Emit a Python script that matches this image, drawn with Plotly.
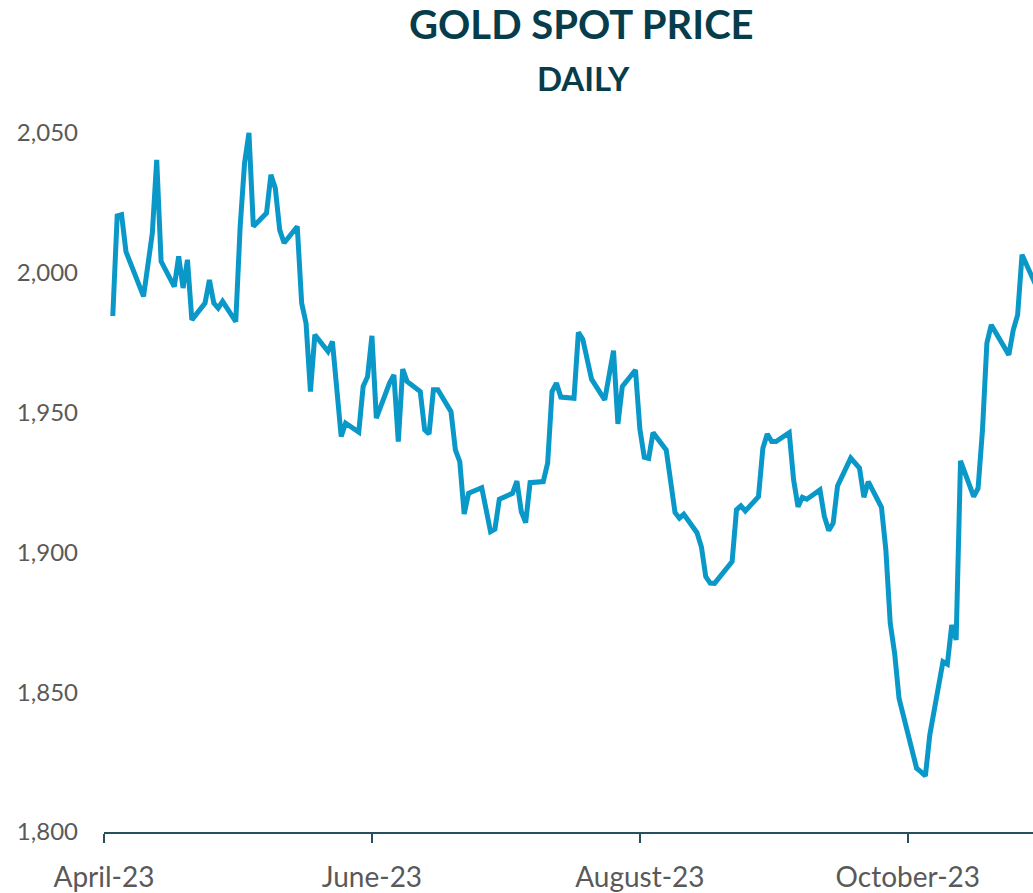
import plotly.graph_objects as go

# Daily gold spot price (USD/oz)
dates = [
    "2023-04-03", "2023-04-04", "2023-04-05", "2023-04-06", "2023-04-10",
    "2023-04-12", "2023-04-13", "2023-04-14", "2023-04-17", "2023-04-18",
    "2023-04-19", "2023-04-20", "2023-04-21", "2023-04-24", "2023-04-25",
    "2023-04-26", "2023-04-27", "2023-04-28", "2023-05-01", "2023-05-02",
    "2023-05-03", "2023-05-04", "2023-05-05", "2023-05-08", "2023-05-09",
    "2023-05-10", "2023-05-11", "2023-05-12", "2023-05-15", "2023-05-16",
    "2023-05-17", "2023-05-18", "2023-05-19", "2023-05-22", "2023-05-23",
    "2023-05-25", "2023-05-26", "2023-05-29", "2023-05-30", "2023-05-31",
    "2023-06-01", "2023-06-02", "2023-06-05", "2023-06-06", "2023-06-07",
    "2023-06-08", "2023-06-09", "2023-06-12", "2023-06-13", "2023-06-14",
    "2023-06-15", "2023-06-16", "2023-06-19", "2023-06-20", "2023-06-21",
    "2023-06-22", "2023-06-23", "2023-06-26", "2023-06-28", "2023-06-29",
    "2023-06-30", "2023-07-03", "2023-07-04", "2023-07-05", "2023-07-06",
    "2023-07-07", "2023-07-10", "2023-07-11", "2023-07-12", "2023-07-13",
    "2023-07-14", "2023-07-17", "2023-07-18", "2023-07-19", "2023-07-21",
    "2023-07-24", "2023-07-26", "2023-07-27", "2023-07-28", "2023-07-31",
    "2023-08-01", "2023-08-02", "2023-08-03", "2023-08-04", "2023-08-07",
    "2023-08-09", "2023-08-10", "2023-08-11", "2023-08-14", "2023-08-15",
    "2023-08-16", "2023-08-17", "2023-08-18", "2023-08-22", "2023-08-23",
    "2023-08-24", "2023-08-25", "2023-08-28", "2023-08-29", "2023-08-30",
    "2023-08-31", "2023-09-01", "2023-09-04", "2023-09-05", "2023-09-06",
    "2023-09-07", "2023-09-08", "2023-09-11", "2023-09-12", "2023-09-13",
    "2023-09-14", "2023-09-15", "2023-09-18", "2023-09-20", "2023-09-21",
    "2023-09-22", "2023-09-25", "2023-09-26", "2023-09-27", "2023-09-28",
    "2023-09-29", "2023-10-02", "2023-10-03", "2023-10-04", "2023-10-05",
    "2023-10-06", "2023-10-09", "2023-10-10", "2023-10-11", "2023-10-12",
    "2023-10-13", "2023-10-16", "2023-10-17", "2023-10-18", "2023-10-19",
    "2023-10-20", "2023-10-24", "2023-10-25", "2023-10-26", "2023-10-27",
    "2023-10-30",
]
prices = [
    1984.5, 2020.3, 2020.7, 2007.5, 1991.5,
    2014.1, 2040.3, 2004.0, 1995.0, 2005.8,
    1994.5, 2004.6, 1983.1, 1989.1, 1997.4,
    1989.1, 1987.3, 1989.7, 1982.5, 2016.5,
    2039.2, 2050.0, 2016.5, 2021.3, 2035.0,
    2030.2, 2015.3, 2010.6, 2016.5, 1989.1,
    1981.9, 1957.5, 1977.8, 1971.8, 1975.4,
    1941.4, 1946.2, 1943.0, 1959.3, 1962.8,
    1977.4, 1948.0, 1960.5, 1963.4, 1939.6,
    1965.5, 1961.1, 1957.5, 1943.8, 1942.3,
    1958.1, 1958.1, 1950.3, 1936.6, 1932.4,
    1913.7, 1921.1, 1923.1, 1907.4, 1908.3,
    1919.0, 1921.1, 1925.5, 1914.6, 1910.6,
    1924.9, 1925.3, 1931.9, 1957.5, 1960.5,
    1955.5, 1955.1, 1978.6, 1976.2, 1961.9,
    1954.5, 1972.1, 1945.9, 1959.3, 1965.2,
    1944.0, 1934.0, 1933.6, 1942.8, 1936.6,
    1914.2, 1912.2, 1913.6, 1907.0, 1902.0,
    1891.3, 1889.0, 1888.9, 1896.7, 1915.2,
    1916.6, 1914.8, 1919.9, 1937.2, 1942.3,
    1939.6, 1939.6, 1942.8, 1925.9, 1916.3,
    1919.7, 1919.0, 1922.3, 1912.8, 1907.8,
    1910.4, 1923.7, 1933.7, 1930.1, 1919.7,
    1925.3, 1916.1, 1900.9, 1874.6, 1863.9,
    1847.8, 1830.0, 1822.8, 1821.5, 1820.0,
    1834.7, 1860.9, 1860.0, 1874.0, 1868.7,
    1932.7, 1919.9, 1922.9, 1943.8, 1974.8,
    1981.3, 1970.6, 1979.5, 1984.9, 2006.4,
    1996.0,
]

x_tick_vals = ["2023-04-01", "2023-06-01", "2023-08-01", "2023-10-01"]
x_tick_text = ["April-23", "June-23", "August-23", "October-23"]
y_tick_vals = [1800, 1850, 1900, 1950, 2000, 2050]

title_text = "GOLD SPOT PRICE"
subtitle_text = "DAILY"

LINE = "#0A98C9"
DARK = "#073D4B"
AXIS = "#274F5C"
GRAY = "#595959"
FONT = "Lato"

fig = go.Figure()
fig.add_trace(go.Scatter(
    x=dates, y=prices, mode="lines",
    line=dict(color=LINE, width=5),
    hoverinfo="x+y", showlegend=False,
))

fig.update_layout(
    width=1033, height=893,
    margin=dict(l=104, r=0, t=130, b=61),
    paper_bgcolor="white", plot_bgcolor="white",
    font=dict(family=FONT, color=GRAY),
    annotations=[
        dict(text=f"<b>{title_text}</b>", xref="paper", yref="paper",
             x=0.5145, y=1.1505, xanchor="center", yanchor="middle",
             showarrow=False, font=dict(family=FONT, size=40, color=DARK)),
        dict(text=f"<b>{subtitle_text}</b>", xref="paper", yref="paper",
             x=0.516, y=1.0745, xanchor="center", yanchor="middle",
             showarrow=False, font=dict(family=FONT, size=33, color=DARK)),
    ],
)

fig.update_xaxes(
    type="date",
    range=["2023-04-01", "2023-10-29 12:00"],
    tickmode="array", tickvals=x_tick_vals, ticktext=x_tick_text,
    showline=True, linecolor=AXIS, linewidth=2,
    ticks="outside", ticklen=9, tickwidth=1.5, tickcolor=AXIS,
    ticklabelstandoff=10,
    tickfont=dict(family=FONT, size=28, color=GRAY),
    showgrid=False, zeroline=False,
)
fig.update_yaxes(
    range=[1800, 2051],
    tickmode="array", tickvals=y_tick_vals, tickformat=",",
    showline=False, ticks="", showgrid=False, zeroline=False,
    ticklabelstandoff=25,
    tickfont=dict(family=FONT, size=24, color=GRAY),
)

fig.write_html(
    "out.html",
    config={"displayModeBar": False},
    post_script="document.body.style.margin='0';document.body.style.overflow='hidden';",
)
